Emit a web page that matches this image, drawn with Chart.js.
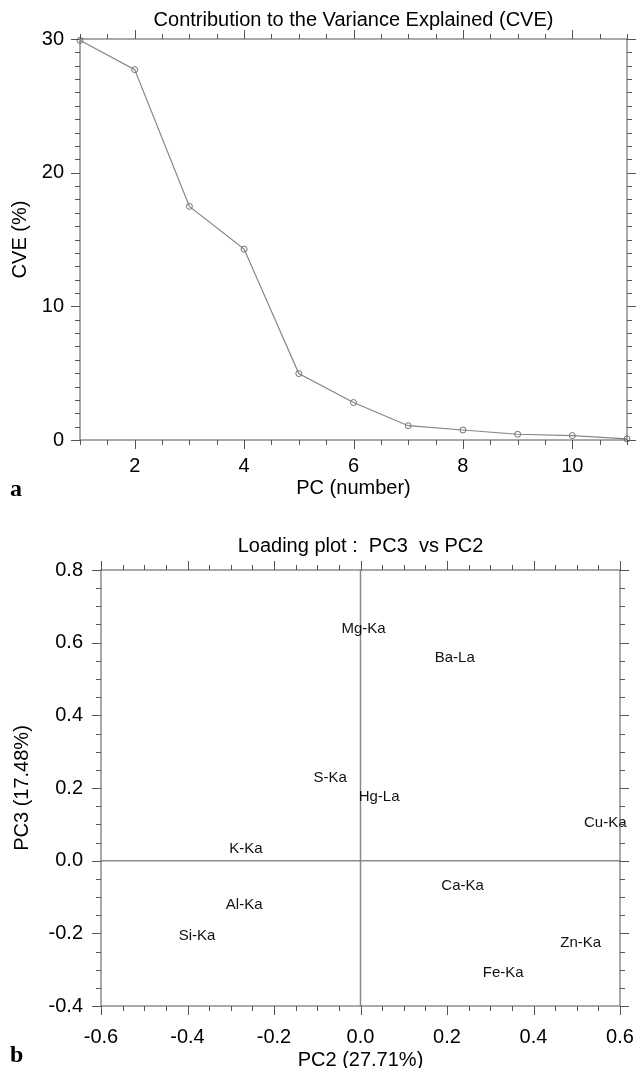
<!DOCTYPE html>
<html>
<head>
<meta charset="utf-8">
<script src="https://cdn.jsdelivr.net/npm/chart.js@4.4.1/dist/chart.umd.min.js"></script>
<style>
  body { margin: 0; background: #fff; overflow: hidden; }
  #page { position: relative; width: 636px; height: 1068px; }
  canvas { position: absolute; left: 0; }
  #cveChart { top: 0; }
  #loadChart { top: 515px; }
  .panel { position: absolute; left: 10px; font: bold 24px "Liberation Serif", serif; color: #000; }
</style>
</head>
<body>
<div id="page">
  <canvas id="cveChart" width="636" height="505"></canvas>
  <canvas id="loadChart" width="636" height="553"></canvas>
  <div class="panel" style="top:475px">a</div>
  <div class="panel" style="top:1041px">b</div>
</div>
<script>
// Panel a: variance explained per component
const pcNumbers = [1, 2, 3, 4, 5, 6, 7, 8, 9, 10, 11];
const cveValues = [29.9, 27.71, 17.48, 14.28, 4.97, 2.8, 1.07, 0.75, 0.43, 0.33, 0.08];
const cveXLabels = [2, 4, 6, 8, 10];
const cveYLabels = [0, 10, 20, 30];

// Panel b: loadings on PC2 / PC3
const elements = ['Mg-Ka', 'Ba-La', 'S-Ka', 'Hg-La', 'Cu-Ka', 'K-Ka', 'Ca-Ka', 'Al-Ka', 'Si-Ka', 'Zn-Ka', 'Fe-Ka'];
const pc2Loadings = [0.007, 0.218, -0.070, 0.043, 0.566, -0.265, 0.236, -0.269, -0.378, 0.509, 0.330];
const pc3Loadings = [0.637, 0.559, 0.227, 0.175, 0.104, 0.033, -0.070, -0.123, -0.206, -0.226, -0.308];
const loadXLabels = [-0.6, -0.4, -0.2, 0.0, 0.2, 0.4, 0.6];
const loadYLabels = [-0.4, -0.2, 0.0, 0.2, 0.4, 0.6, 0.8];

const FONT = '"Liberation Sans", Arial, sans-serif';
const AXIS_COLOR = '#555';

function inList(v, list) {
    return list.some(l => Math.abs(l - v) < 1e-9);
}

// box around the plot with outward ticks on all four sides
const frameTicks = {
    id: 'frameTicks',
    afterDraw(chart, args, opts) {
        const { ctx, chartArea: a } = chart;
        const xs = chart.scales.x, ys = chart.scales.y;
        ctx.save();
        ctx.strokeStyle = AXIS_COLOR;
        ctx.lineWidth = 1;
        ctx.strokeRect(a.left, a.top, a.right - a.left, a.bottom - a.top);
        ctx.beginPath();
        xs.ticks.forEach(t => {
            const px = Math.round(xs.getPixelForValue(t.value)) + 0.5;
            const len = inList(t.value, opts.xMajor) ? 9 : 5;
            ctx.moveTo(px, a.bottom); ctx.lineTo(px, a.bottom + len);
            ctx.moveTo(px, a.top); ctx.lineTo(px, a.top - len);
        });
        ys.ticks.forEach(t => {
            const py = Math.round(ys.getPixelForValue(t.value)) + 0.5;
            const len = inList(t.value, opts.yMajor) ? 9 : 5;
            ctx.moveTo(a.left, py); ctx.lineTo(a.left - len, py);
            ctx.moveTo(a.right, py); ctx.lineTo(a.right + len, py);
        });
        ctx.stroke();
        ctx.restore();
    }
};

// zero lines of the loading plot
const zeroLines = {
    id: 'zeroLines',
    beforeDatasetsDraw(chart) {
        const { ctx, chartArea: a } = chart;
        const x0 = chart.scales.x.getPixelForValue(0);
        const y0 = chart.scales.y.getPixelForValue(0);
        ctx.save();
        ctx.strokeStyle = '#8a8a8a';
        ctx.lineWidth = 1.5;
        ctx.beginPath();
        ctx.moveTo(x0, a.top); ctx.lineTo(x0, a.bottom);
        ctx.moveTo(a.left, y0); ctx.lineTo(a.right, y0);
        ctx.stroke();
        ctx.restore();
    }
};

// element names written at their loading positions
const pointNames = {
    id: 'pointNames',
    afterDatasetsDraw(chart) {
        const { ctx } = chart;
        const meta = chart.getDatasetMeta(0);
        ctx.save();
        ctx.fillStyle = '#111';
        ctx.font = '15px ' + FONT;
        ctx.textAlign = 'center';
        ctx.textBaseline = 'middle';
        meta.data.forEach((el, i) => {
            ctx.fillText(elements[i], el.x, el.y);
        });
        ctx.restore();
    }
};

// pin the axis boxes so the plot areas land where the original has them
function fixWidth(w) {
    return scale => { scale.width = w; scale.paddingTop = 0; scale.paddingBottom = 0; };
}
function fixHeight(h) {
    return scale => { scale.height = h; scale.paddingLeft = 0; scale.paddingRight = 0; };
}

new Chart(document.getElementById('cveChart'), {
    type: 'line',
    data: {
        datasets: [{
            data: pcNumbers.map((pc, i) => ({ x: pc, y: cveValues[i] })),
            borderColor: '#858585',
            borderWidth: 1.2,
            pointRadius: 3,
            pointBorderWidth: 1,
            pointBorderColor: '#707070',
            pointBackgroundColor: 'rgba(255,255,255,0)',
            clip: false,
            tension: 0
        }]
    },
    options: {
        responsive: false,
        animation: false,
        events: [],
        layout: { padding: { left: 0, right: 9, top: 0, bottom: 0 } },
        plugins: {
            legend: { display: false },
            tooltip: { enabled: false },
            title: {
                display: true,
                fullSize: false,
                text: 'Contribution to the Variance Explained (CVE)',
                color: '#000',
                font: { family: FONT, size: 20, weight: 'normal' },
                padding: { top: 8, bottom: 7 }
            },
            frameTicks: { xMajor: cveXLabels, yMajor: cveYLabels }
        },
        scales: {
            x: {
                type: 'linear',
                min: 1, max: 11,
                grid: { display: false, drawTicks: false },
                border: { display: false },
                afterFit: fixHeight(65),
                ticks: {
                    stepSize: 0.5,
                    autoSkip: false,
                    maxRotation: 0,
                    padding: 14,
                    color: '#000',
                    font: { family: FONT, size: 20 },
                    callback: v => inList(v, cveXLabels) ? String(v) : ''
                },
                title: {
                    display: true,
                    text: 'PC (number)',
                    color: '#000',
                    font: { family: FONT, size: 20 },
                    padding: { top: 0, bottom: 5 }
                }
            },
            y: {
                min: 0, max: 30,
                grid: { display: false, drawTicks: false },
                border: { display: false },
                afterFit: fixWidth(80),
                ticks: {
                    stepSize: 1,
                    autoSkip: false,
                    padding: 16,
                    color: '#000',
                    font: { family: FONT, size: 20 },
                    callback: v => inList(v, cveYLabels) ? String(v) : ''
                },
                title: {
                    display: true,
                    text: 'CVE (%)',
                    color: '#000',
                    font: { family: FONT, size: 20 },
                    padding: { top: 8, bottom: 0 }
                }
            }
        }
    },
    plugins: [frameTicks]
});

new Chart(document.getElementById('loadChart'), {
    type: 'scatter',
    data: {
        datasets: [{
            data: elements.map((e, i) => ({ x: pc2Loadings[i], y: pc3Loadings[i] })),
            pointRadius: 0
        }]
    },
    options: {
        responsive: false,
        animation: false,
        events: [],
        layout: { padding: { left: 0, right: 16, top: 0, bottom: 0 } },
        plugins: {
            legend: { display: false },
            tooltip: { enabled: false },
            title: {
                display: true,
                fullSize: false,
                text: 'Loading plot :  PC3  vs PC2',
                color: '#000',
                font: { family: FONT, size: 20, weight: 'normal' },
                padding: { top: 19, bottom: 12 }
            },
            frameTicks: { xMajor: loadXLabels, yMajor: loadYLabels }
        },
        scales: {
            x: {
                type: 'linear',
                min: -0.6, max: 0.6,
                grid: { display: false, drawTicks: false },
                border: { display: false },
                afterFit: fixHeight(62),
                ticks: {
                    stepSize: 0.05,
                    autoSkip: false,
                    maxRotation: 0,
                    padding: 19,
                    color: '#000',
                    font: { family: FONT, size: 20 },
                    callback: v => inList(v, loadXLabels) ? v.toFixed(1) : ''
                },
                title: {
                    display: true,
                    text: 'PC2 (27.71%)',
                    color: '#000',
                    font: { family: FONT, size: 20, lineHeight: 1 },
                    padding: { top: 0, bottom: -2 }
                }
            },
            y: {
                min: -0.4, max: 0.8,
                grid: { display: false, drawTicks: false },
                border: { display: false },
                afterFit: fixWidth(101),
                ticks: {
                    stepSize: 0.05,
                    autoSkip: false,
                    padding: 18,
                    color: '#000',
                    font: { family: FONT, size: 20 },
                    callback: v => inList(v, loadYLabels) ? v.toFixed(1) : ''
                },
                title: {
                    display: true,
                    text: 'PC3 (17.48%)',
                    color: '#000',
                    font: { family: FONT, size: 20 },
                    padding: { top: 10, bottom: 0 }
                }
            }
        }
    },
    plugins: [zeroLines, pointNames, frameTicks]
});
</script>
</body>
</html>
